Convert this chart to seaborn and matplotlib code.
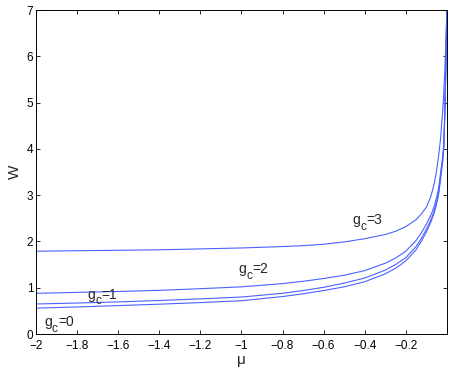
import matplotlib
matplotlib.use('Agg')
import matplotlib.pyplot as plt
import seaborn as sns
import pandas as pd

# chemical potential grid (denser near mu -> 0 where W diverges)
mu = [-2.0, -1.8, -1.6, -1.4, -1.2, -1.0, -0.8, -0.7, -0.6, -0.5, -0.4, -0.3,
      -0.25, -0.2, -0.15, -0.125, -0.1, -0.09, -0.08, -0.07, -0.06, -0.05,
      -0.04, -0.03, -0.02, -0.015, -0.01, -0.005, 0.0]

w_gc0 = [0.56, 0.585, 0.615, 0.645, 0.68, 0.72, 0.81, 0.87, 0.94, 1.02, 1.13, 1.30,
         1.42, 1.58, 1.82, 2.00, 2.20, 2.30, 2.40, 2.51, 2.64, 2.81,
         3.02, 3.37, 3.73, 4.0, 4.7, 5.7, 7.0]
w_gc1 = [0.65, 0.67, 0.695, 0.725, 0.76, 0.80, 0.88, 0.94, 1.01, 1.10, 1.21, 1.38,
         1.50, 1.65, 1.89, 2.06, 2.26, 2.35, 2.45, 2.56, 2.69, 2.86,
         3.07, 3.42, 3.78, 4.05, 4.75, 5.75, 7.0]
w_gc2 = [0.88, 0.90, 0.92, 0.945, 0.98, 1.02, 1.09, 1.14, 1.20, 1.27, 1.37, 1.53,
         1.64, 1.79, 2.02, 2.18, 2.37, 2.46, 2.55, 2.66, 2.78, 2.95,
         3.15, 3.5, 3.85, 4.1, 4.8, 5.8, 7.0]
w_gc3 = [1.79, 1.80, 1.81, 1.82, 1.84, 1.86, 1.89, 1.91, 1.94, 1.99, 2.06, 2.15,
         2.22, 2.32, 2.47, 2.59, 2.74, 2.84, 2.95, 3.10, 3.28, 3.53,
         3.85, 4.25, 4.85, 5.2, 5.7, 6.3, 7.0]

series = {"0": w_gc0, "1": w_gc1, "2": w_gc2, "3": w_gc3}
# label anchors (left edge, vertical centre) in data units
label_pos = {"0": (-1.961, 0.26), "1": (-1.748, 0.85),
             "2": (-1.015, 1.40), "3": (-0.46, 2.46)}

xticks = [-2, -1.8, -1.6, -1.4, -1.2, -1, -0.8, -0.6, -0.4, -0.2]
xticklabels = ["\u22122", "\u22121.8", "\u22121.6", "\u22121.4", "\u22121.2",
               "\u22121", "\u22120.8", "\u22120.6", "\u22120.4", "\u22120.2"]
yticks = [0, 1, 2, 3, 4, 5, 6, 7]

sns.set_theme(style="ticks")
plt.rcParams['font.family'] = ['Liberation Sans', 'DejaVu Sans']

fig = plt.figure(figsize=(4.5, 3.72), dpi=100)
ax = fig.add_axes([0.08, 0.102, 0.913, 0.871])

line_color = "#4a62ff"
for gc, w in series.items():
    df = pd.DataFrame({"mu": mu, "W": w})
    sns.lineplot(data=df, x="mu", y="W", ax=ax, color=line_color,
                 linewidth=0.8, estimator=None, sort=False)
    lx, ly = label_pos[gc]
    # "g" with a lowered, slightly smaller "c" subscript, then "=n"
    t = ax.text(lx, ly, "g", fontsize=10, va="center", ha="left")
    ax.annotate("c", xy=(1, 0), xycoords=t, xytext=(0, -4),
                textcoords="offset points", fontsize=8.5, va="bottom", ha="left")
    ax.annotate("=" + gc, xy=(1, 0), xycoords=t, xytext=(4.5, 0),
                textcoords="offset points", fontsize=10, va="bottom", ha="left")

ax.set_xlim(-2, 0)
ax.set_ylim(0, 7)
ax.set_xticks(xticks)
ax.set_xticklabels(xticklabels)
ax.set_yticks(yticks)
ax.tick_params(direction="in", length=3, width=0.6, labelsize=8.5,
               top=True, right=True, colors="black")
ax.tick_params(axis="x", pad=4)
ax.tick_params(axis="y", pad=2)
for s in ax.spines.values():
    s.set_visible(True)
    s.set_linewidth(0.7)
    s.set_color("black")
ax.set_xlabel("\u03bc", fontsize=11, labelpad=1)
ax.set_ylabel("W", fontsize=11, labelpad=3)

fig.savefig("out.png", dpi=100)
